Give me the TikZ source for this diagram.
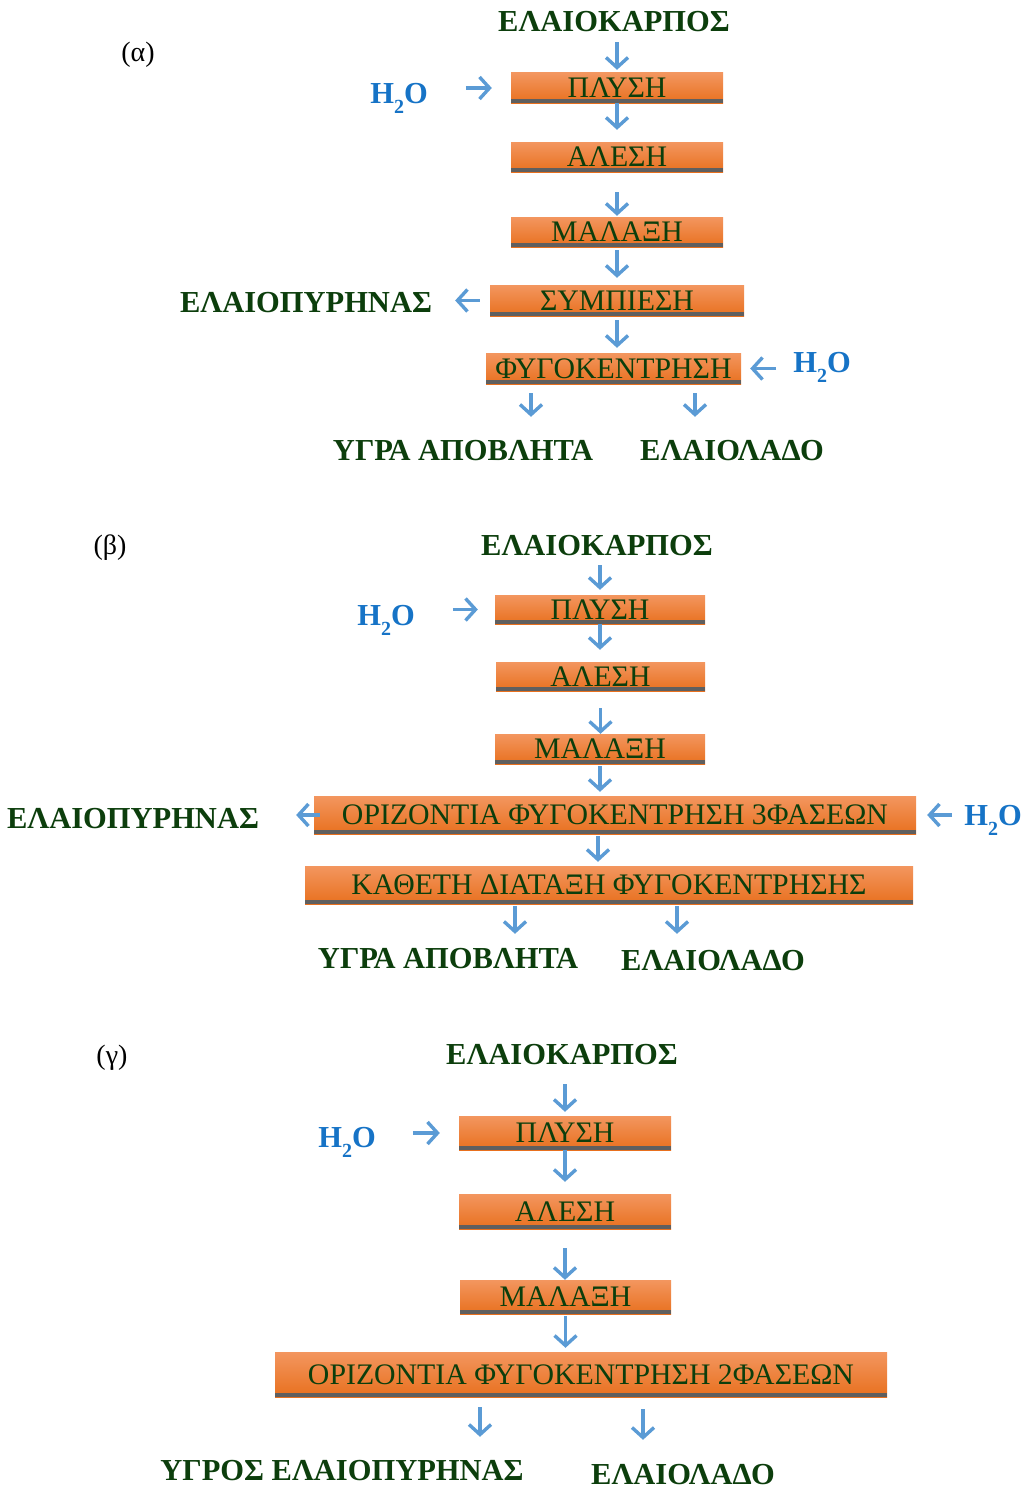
\documentclass[tikz,border=0pt]{standalone}
\usepackage{fontspec}
\setmainfont{Liberation Serif}
\usetikzlibrary{arrows.meta}
\definecolor{tgreen}{RGB}{12,62,12}
\definecolor{h2oblue}{RGB}{22,115,198}
\definecolor{arrblue}{RGB}{91,155,213}
\definecolor{boxtop}{RGB}{243,150,95}
\definecolor{boxbot}{RGB}{232,112,30}
\definecolor{shadowgray}{RGB}{95,95,95}
\newcommand{\myboxfont}{\fontsize{29.8}{31}\selectfont}
\newcommand{\mylabfont}{\fontsize{30.5}{32}\selectfont\bfseries}
\newcommand{\mytagfont}{\fontsize{28}{30}\selectfont}
\newcommand{\mywat}{H\raisebox{-0.33em}{\fontsize{20}{20}\selectfont 2}O}
\tikzset{
  proc/.style={shade, top color=boxtop, bottom color=boxbot, inner sep=0pt,
    text=tgreen, font=\myboxfont,
    path picture={\fill[shadowgray] ([yshift=4pt]path picture bounding box.south west) rectangle (path picture bounding box.south east);}},
  lab/.style={inner sep=0pt, text=tgreen, font=\mylabfont, text height=20pt, text depth=0pt},
  water/.style={inner sep=0pt, text=h2oblue, font=\mylabfont},
  tagl/.style={inner sep=0pt, font=\mytagfont},
  arr/.style={draw=arrblue, line width=3.4pt, -{Straight Barb[length=10pt,width=22pt]}},
}
\begin{document}
\begin{tikzpicture}[x=1pt,y=-1pt]
\useasboundingbox (0,0) rectangle (1024,1488);
% ---------- (a)
\node[tagl] (ta) at (138,55) {(α)};
\node[lab] (Ka) at (614,22) {ΕΛΑΙΟΚΑΡΠΟΣ};
\node[proc, minimum width=212, minimum height=30] (Pa) at (617,88) {ΠΛΥΣΗ};
\node[proc, minimum width=212, minimum height=30] (Aa) at (617,157) {ΑΛΕΣΗ};
\node[proc, minimum width=212, minimum height=30] (Ma) at (617,232) {ΜΑΛΑΞΗ};
\node[proc, minimum width=254, minimum height=31] (Sa) at (617,300.5) {ΣΥΜΠΙΕΣΗ};
\node[proc, minimum width=255, minimum height=31] (Fa) at (613.5,368.5) {ΦΥΓΟΚΕΝΤΡΗΣΗ};
\node[water] (Wa1) at (399,98) {\mywat};
\node[water] (Wa2) at (822,367) {\mywat};
\node[lab] (EPa) at (306,302) {ΕΛΑΙΟΠΥΡΗΝΑΣ};
\node[lab] (YAa) at (463,450) {ΥΓΡΑ ΑΠΟΒΛΗΤΑ};
\node[lab] (ELa) at (732,450) {ΕΛΑΙΟΛΑΔΟ};
\coordinate (Fa1) at ([xshift=-82.5pt]Fa.south);
\coordinate (Fa2) at ([xshift=81.5pt]Fa.south);
\draw[arr, shorten <=10pt, shorten >=3pt] (Ka.south -| Pa.north) -- (Pa.north);
\draw[arr, shorten >=12pt] (Pa.south) -- (Aa.north);
\draw[arr, shorten <=20pt, shorten >=1pt] (Aa.south) -- (Ma.north);
\draw[arr, shorten <=3pt, shorten >=7pt] (Ma.south) -- (Sa.north);
\draw[arr, shorten <=4pt, shorten >=5pt] (Sa.south) -- (Sa.south |- Fa.north);
\draw[arr, shorten <=38pt, shorten >=19pt] (Wa1.east |- Pa.west) -- (Pa.west);
\draw[arr, shorten <=10pt, shorten >=23pt] (Sa.west) -- (EPa.east |- Sa.west);
\draw[arr, shorten <=17pt, shorten >=9pt] (Wa2.west |- Fa.east) -- (Fa.east);
\draw[arr, shorten <=9pt, shorten >=23pt] (Fa1) -- (Fa1 |- YAa.north);
\draw[arr, shorten <=9pt, shorten >=23pt] (Fa2) -- (Fa2 |- ELa.north);
% ---------- (b)
\node[tagl] (tb) at (110,548) {(β)};
\node[lab] (Kb) at (597,545) {ΕΛΑΙΟΚΑΡΠΟΣ};
\node[proc, minimum width=210, minimum height=29] (Pb) at (600,609.5) {ΠΛΥΣΗ};
\node[proc, minimum width=209, minimum height=29] (Ab) at (600.5,676.5) {ΑΛΕΣΗ};
\node[proc, minimum width=210, minimum height=30] (Mb) at (600,749) {ΜΑΛΑΞΗ};
\node[proc, minimum width=602, minimum height=38] (Ob) at (615,815) {ΟΡΙΖΟΝΤΙΑ ΦΥΓΟΚΕΝΤΡΗΣΗ 3ΦΑΣΕΩΝ};
\node[proc, minimum width=608, minimum height=38] (Db) at (609,885) {ΚΑΘΕΤΗ ΔΙΑΤΑΞΗ ΦΥΓΟΚΕΝΤΡΗΣΗΣ};
\node[water] (Wb1) at (386,620) {\mywat};
\node[water] (Wb2) at (993,820) {\mywat};
\node[lab] (EPb) at (133,818) {ΕΛΑΙΟΠΥΡΗΝΑΣ};
\node[lab] (YAb) at (448,958) {ΥΓΡΑ ΑΠΟΒΛΗΤΑ};
\node[lab] (ELb) at (713,960) {ΕΛΑΙΟΛΑΔΟ};
\coordinate (Ob1) at ([xshift=-17pt]Ob.south);
\coordinate (Db1) at ([xshift=-94pt]Db.south);
\coordinate (Db2) at ([xshift=68pt]Db.south);
\draw[arr, shorten <=10pt, shorten >=5pt] (Kb.south -| Pb.north) -- (Pb.north);
\draw[arr, shorten >=12pt] (Pb.south) -- (Pb.south |- Ab.north);
\draw[arr, shorten <=38pt, shorten >=17pt] (Wb1.east |- Pb.west) -- (Pb.west);
\draw[arr, shorten <=17pt] (Ab.south) -- (Ab.south |- Mb.north);
\draw[arr, shorten <=2pt, shorten >=4pt] (Mb.south) -- (Mb.south |- Ob.north);
\draw[arr, shorten <=-6pt, shorten >=37pt] (Ob.west) -- (EPb.east |- Ob.west);
\draw[arr, shorten <=12pt, shorten >=11pt] (Wb2.west |- Ob.east) -- (Ob.east);
\draw[arr, shorten <=2pt, shorten >=4pt] (Ob1) -- (Ob1 |- Db.north);
\draw[arr, shorten <=2pt, shorten >=14pt] (Db1) -- (Db1 |- YAb.north);
\draw[arr, shorten <=2pt, shorten >=16pt] (Db2) -- (Db2 |- ELb.north);
% ---------- (c)
\node[tagl] (tc) at (112,1058) {(γ)};
\node[lab] (Kc) at (562,1054) {ΕΛΑΙΟΚΑΡΠΟΣ};
\node[proc, minimum width=212, minimum height=34] (Pc) at (565,1133) {ΠΛΥΣΗ};
\node[proc, minimum width=212, minimum height=35] (Ac) at (565,1211.5) {ΑΛΕΣΗ};
\node[proc, minimum width=211, minimum height=34] (Mc) at (565.5,1297) {ΜΑΛΑΞΗ};
\node[proc, minimum width=612, minimum height=45] (Oc) at (581,1374.5) {ΟΡΙΖΟΝΤΙΑ ΦΥΓΟΚΕΝΤΡΗΣΗ 2ΦΑΣΕΩΝ};
\node[water] (Wc) at (347,1142) {\mywat};
\node[lab] (YEc) at (342,1470) {ΥΓΡΟΣ ΕΛΑΙΟΠΥΡΗΝΑΣ};
\node[lab] (ELc) at (683,1474) {ΕΛΑΙΟΛΑΔΟ};
\coordinate (Oc1) at ([xshift=-101pt]Oc.south);
\coordinate (Oc2) at ([xshift=62pt]Oc.south);
\draw[arr, shorten <=20pt, shorten >=4pt] (Kc.south -| Pc.north) -- (Pc.north);
\draw[arr, shorten >=12pt] (Pc.south) -- (Pc.south |- Ac.north);
\draw[arr, shorten <=37pt, shorten >=19pt] (Wc.east |- Pc.west) -- (Pc.west);
\draw[arr, shorten <=19pt] (Ac.south) -- (Ac.south |- Mc.north);
\draw[arr, shorten <=2pt, shorten >=4pt] (Mc.south) -- (Mc.south |- Oc.north);
\draw[arr, shorten <=10pt, shorten >=23pt] (Oc1) -- (Oc1 |- YEc.north);
\draw[arr, shorten <=12pt, shorten >=24pt] (Oc2) -- (Oc2 |- ELc.north);
\end{tikzpicture}
\end{document}
